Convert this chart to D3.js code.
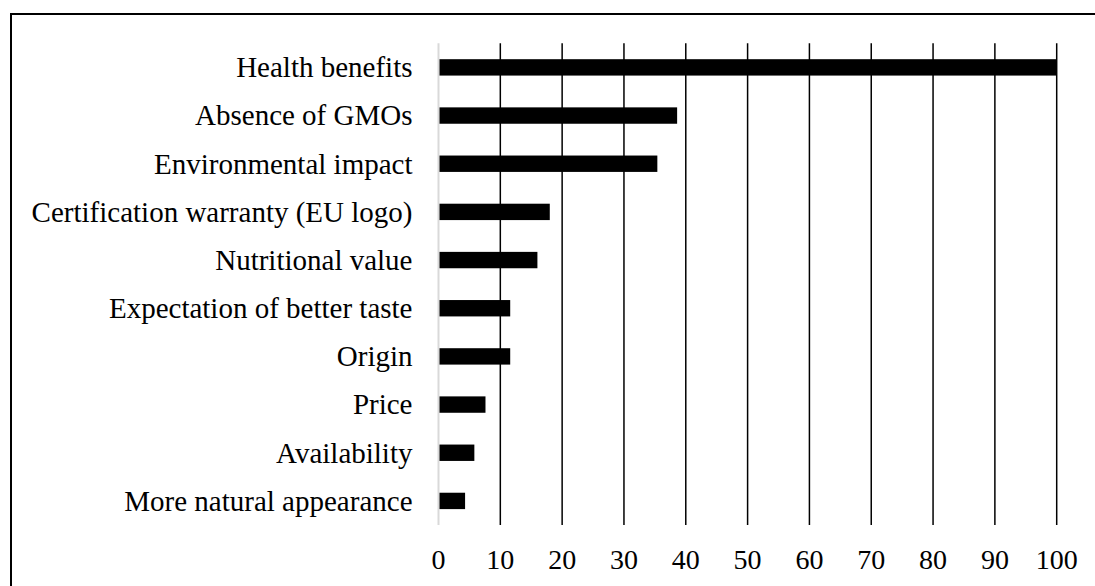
<!DOCTYPE html>
<html lang="en">
  <head>
    <meta charset="UTF-8" />
    <title>Reasons for buying organic</title>
    <script src="https://d3js.org/d3.v7.min.js"></script>
    <style>
      body {
        margin: 0;
        padding: 0;
        background: #fff;
      }
      svg {
        display: block;
      }
      text {
        font-family: "Liberation Serif", "Times New Roman", serif;
        fill: #000;
      }
    </style>
  </head>
  <body>
    <svg width="1095" height="586"></svg>
    <script>
      const categories = [
        "Health benefits",
        "Absence of GMOs",
        "Environmental impact",
        "Certification warranty (EU logo)",
        "Nutritional value",
        "Expectation of better taste",
        "Origin",
        "Price",
        "Availability",
        "More natural appearance",
      ];
      const values = [100, 38.6, 35.4, 18.0, 16.0, 11.6, 11.6, 7.6, 5.8, 4.3];
      const ticks = [0, 10, 20, 30, 40, 50, 60, 70, 80, 90, 100];

      const width = 1095,
        height = 586;
      const svg = d3.select("svg");
      const plotLeft = 438.5,
        plotRight = 1056.7,
        plotTop = 43.3,
        plotBottom = 525;

      // outer frame (runs off the right and bottom edge)
      svg
        .append("rect")
        .attr("x", 11)
        .attr("y", 14)
        .attr("width", width + 20)
        .attr("height", height + 20)
        .attr("fill", "none")
        .attr("stroke", "#000")
        .attr("stroke-width", 2);

      const x = d3.scaleLinear().domain([0, 100]).range([plotLeft, plotRight]);
      const y = d3
        .scaleBand()
        .domain(categories)
        .range([plotTop, plotBottom])
        .paddingInner(0.66)
        .paddingOuter(0.33);

      // gridlines
      svg
        .selectAll("line.grid")
        .data(ticks.slice(1))
        .join("line")
        .attr("class", "grid")
        .attr("x1", (d) => x(d))
        .attr("x2", (d) => x(d))
        .attr("y1", plotTop)
        .attr("y2", plotBottom)
        .attr("stroke", "#000")
        .attr("stroke-width", 1.5);

      // category axis line
      svg
        .append("line")
        .attr("x1", x(0))
        .attr("x2", x(0))
        .attr("y1", plotTop)
        .attr("y2", plotBottom)
        .attr("stroke", "#d9d9d9")
        .attr("stroke-width", 2);

      svg
        .selectAll("rect.bar")
        .data(values)
        .join("rect")
        .attr("class", "bar")
        .attr("x", x(0) + 1)
        .attr("y", (d, i) => y(categories[i]))
        .attr("width", (d) => x(d) - x(0) - 1)
        .attr("height", y.bandwidth())
        .attr("fill", "#000");

      // category labels
      svg
        .selectAll("text.cat")
        .data(categories)
        .join("text")
        .attr("class", "cat")
        .attr("x", x(0) - 26)
        .attr("y", (d) => y(d) + y.bandwidth() / 2)
        .attr("dy", "0.34em")
        .attr("text-anchor", "end")
        .style("font-size", "29px")
        .text((d) => d);

      // value ticks
      svg
        .selectAll("text.tick")
        .data(ticks)
        .join("text")
        .attr("class", "tick")
        .attr("x", (d) => x(d))
        .attr("y", 569)
        .attr("text-anchor", "middle")
        .style("font-size", "28px")
        .text((d) => d);
    </script>
  </body>
</html>
